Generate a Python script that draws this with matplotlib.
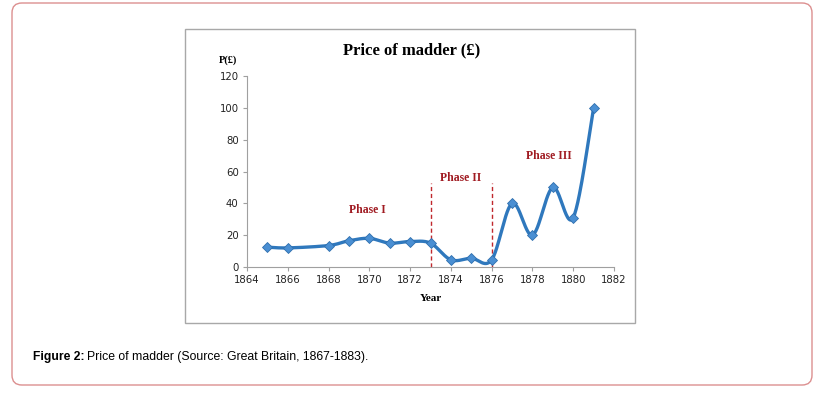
import numpy as np
import matplotlib.pyplot as plt
from matplotlib.patches import FancyBboxPatch, Rectangle

years = [1865, 1866, 1868, 1869, 1870, 1871, 1872, 1873, 1874, 1875, 1876,
         1877, 1878, 1879, 1880, 1881]
price = [12.5, 12, 13.5, 16.5, 18, 15, 16, 15, 4.5, 5.5, 4.5,
         40, 20, 50, 31, 100]
phase_lines = [1873, 1876]
phase_labels = ['Phase I', 'Phase II', 'Phase III']
phase_pos = [(1869.9, 36), (1874.5, 56), (1878.8, 70)]


def smooth(x, y, n=30):
    # bezier smoothing like the spreadsheet "smoothed line"
    x = np.asarray(x, float)
    y = np.asarray(y, float)
    px, py = [], []
    for i in range(len(x) - 1):
        x0, y0 = (x[i - 1], y[i - 1]) if i > 0 else (x[i], y[i])
        x3, y3 = (x[i + 2], y[i + 2]) if i + 2 < len(x) else (x[i + 1], y[i + 1])
        x1, y1 = x[i], y[i]
        x2, y2 = x[i + 1], y[i + 1]
        c1x, c1y = x1 + (x2 - x0) / 6, y1 + (y2 - y0) / 6
        c2x, c2y = x2 - (x3 - x1) / 6, y2 - (y3 - y1) / 6
        t = np.linspace(0, 1, n)
        px.append((1 - t)**3 * x1 + 3 * (1 - t)**2 * t * c1x + 3 * (1 - t) * t**2 * c2x + t**3 * x2)
        py.append((1 - t)**3 * y1 + 3 * (1 - t)**2 * t * c1y + 3 * (1 - t) * t**2 * c2y + t**3 * y2)
    return np.concatenate(px), np.concatenate(py)


fig = plt.figure(figsize=(8.2, 3.97), dpi=100)
W, H = 820, 397

# outer card and chart frame
fig.patches.append(FancyBboxPatch((12 / W, 12 / H), 800 / W, 382 / H,
                                  boxstyle='round,pad=0,rounding_size=0.012',
                                  transform=fig.transFigure, fill=False,
                                  edgecolor='#dc8f8f', linewidth=1.0,
                                  mutation_aspect=W / H))
fig.patches.append(Rectangle((185 / W, (H - 323) / H), 450 / W, 294 / H,
                             transform=fig.transFigure, fill=False,
                             edgecolor='#a8a8a8', linewidth=1.0))

ax = fig.add_axes([247 / W, 1 - 267 / H, 367 / W, 191 / H])
sx, sy = smooth(years, price)
ax.plot(sx, sy, color='#2f78bd', linewidth=2.4, zorder=3)
ax.plot(years, price, linestyle='none', marker='D', markersize=5.5,
        markerfacecolor='#4a8fd3', markeredgecolor='#2f6fae',
        markeredgewidth=0.6, zorder=4)
for xv in phase_lines:
    ax.plot([xv, xv], [0, 53], color='#c0282d', linestyle=(0, (3, 2)),
            linewidth=1.0, zorder=2)
for lab, (xv, yv) in zip(phase_labels, phase_pos):
    ax.text(xv, yv, lab, ha='center', va='center', color='#a01b22',
            fontsize=8.5, fontweight='bold', family='Liberation Serif')

ax.set_xlim(1864, 1882)
ax.set_ylim(0, 120)
ax.set_xticks(np.arange(1864, 1883, 2))
ax.set_yticks(np.arange(0, 121, 20))
for s in ['top', 'right']:
    ax.spines[s].set_visible(False)
for s in ['left', 'bottom']:
    ax.spines[s].set_color('#a0a0a0')
    ax.spines[s].set_linewidth(0.8)
ax.tick_params(direction='out', length=3, width=0.8, color='#a0a0a0',
               labelsize=7.3, labelcolor='#222222', pad=3)
ax.set_xlabel('Year', fontsize=8, fontweight='bold', family='Liberation Serif',
              labelpad=6)

fig.text(412 / W, 1 - 50 / H, 'Price of madder (£)', ha='center', va='center',
         fontsize=12, fontweight='bold', family='Liberation Serif')
fig.text(228 / W, 1 - 60 / H, 'P(£)', ha='center', va='center',
         fontsize=7.5, fontweight='bold', family='Liberation Serif')

fig.text(33 / W, 1 - 357 / H, 'Figure 2:', ha='left', va='center',
         fontsize=8.7, fontweight='bold', family='Liberation Sans')
fig.text(87 / W, 1 - 357 / H,
         'Price of madder (Source: Great Britain, 1867-1883).',
         ha='left', va='center', fontsize=8.8, family='Liberation Sans')

fig.savefig('out.png', dpi=100)
